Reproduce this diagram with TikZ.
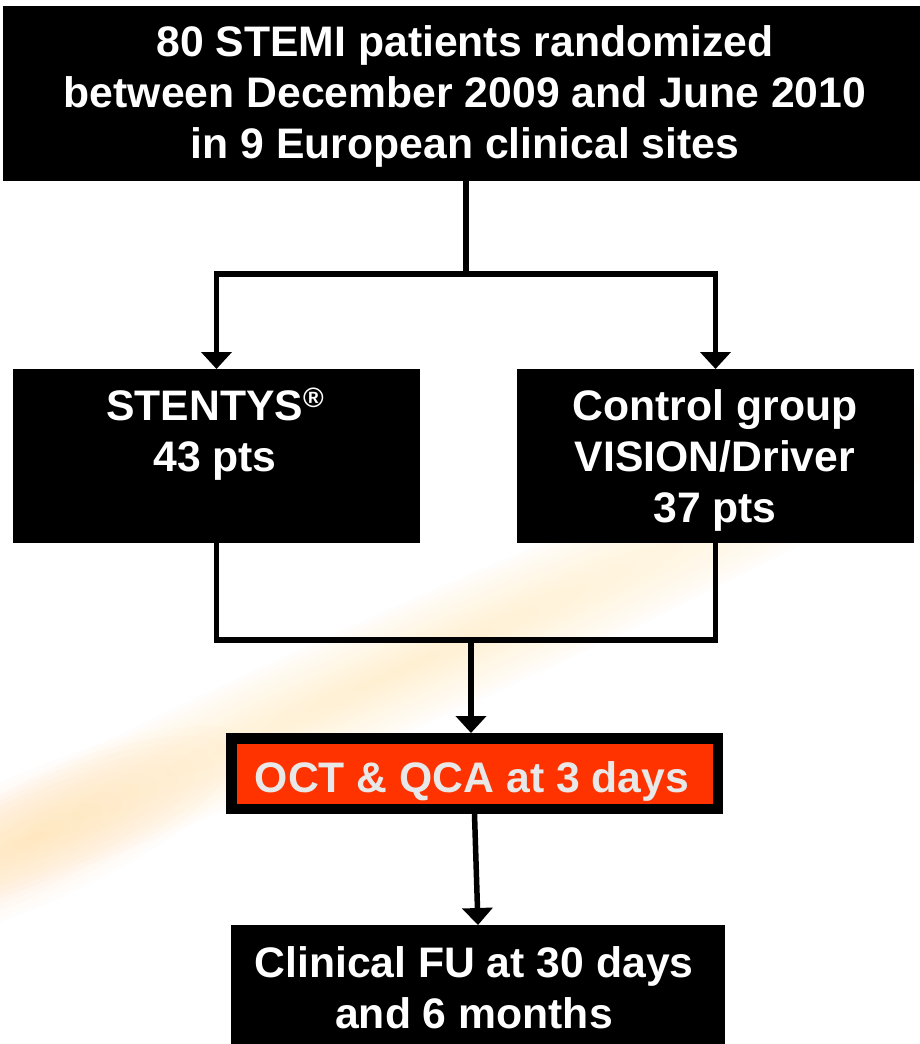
\documentclass[tikz,border=0pt]{standalone}
\usepackage{fontspec}
\setmainfont{Liberation Sans}
\usetikzlibrary{arrows.meta}
\definecolor{octred}{RGB}{255,51,0}
\definecolor{octtext}{RGB}{232,232,232}
\definecolor{glow}{RGB}{255,225,160}
\definecolor{glowdeep}{RGB}{255,210,130}
\begin{document}
\begin{tikzpicture}[x=1pt,y=-1pt,
  box/.style={fill=black, draw=none, inner sep=0pt, outer sep=0pt, anchor=north west},
  lbl/.style={text=white, font=\fontsize{42.7}{51}\selectfont\bfseries, align=center, inner sep=0pt, anchor=base},
  conn/.style={line width=5.5pt, line join=miter},
  arr/.style={line width=5.5pt, -{Triangle[width=30pt,length=17pt]}}]
\useasboundingbox (0,0) rectangle (920,1044);
\fill[white] (0,0) rectangle (920,1044);
% faint light streak in the background
\begin{scope}[shift={(400,670)}, rotate=24]
  \foreach \i in {1,...,14}
    \fill[glow, fill opacity=0.035] (0,0) ellipse ({720*\i/14} and {60*\i/14});
\end{scope}
\begin{scope}[shift={(30,840)}, rotate=24]
  \foreach \i in {1,...,12}
    \fill[glowdeep, fill opacity=0.03] (0,0) ellipse ({240*\i/12} and {65*\i/12});
\end{scope}
% boxes
\node[box, minimum width=917pt, minimum height=175pt] (top) at (3,6) {};
\node[lbl] (toptext) at (465,158) {80 STEMI patients randomized\\between December 2009 and June 2010\\in 9 European clinical sites};
\node[box, minimum width=407pt, minimum height=174pt] (left) at (13,369) {};
\node[lbl] (lefttext) at (215,471) {STENTYS\raisebox{13pt}{\fontsize{28}{28}\selectfont ®}\\43 pts};
\node[box, minimum width=397pt, minimum height=174pt] (right) at (517,369) {};
\node[lbl] (righttext) at (715,522) {Control group\\VISION/Driver\\37 pts};
\node[fill=octred, draw=black, line width=10.5pt, inner sep=0pt,
      minimum width=486.5pt, minimum height=70.5pt] (oct) at (474.5,773.5) {};
\node[lbl, text=octtext] (octtext) at (472,792) {OCT \& QCA at 3 days};
\node[box, minimum width=494pt, minimum height=125pt] (clin) at (231,925) {};
\node[lbl] (clintext) at (474,1028) {Clinical FU at 30 days\\and 6 months};
% connectors
\coordinate (split) at (466,274);
\coordinate (merge) at (471,640);
\draw[conn] (top.south -| split) -- (split);
\draw[arr] (split) -| (left.north);
\draw[arr] (split) -| (right.north);
\draw[conn] (left.south) |- (merge) -| (right.south);
\draw[arr] (merge) -- (merge |- oct.north);
\draw[arr] (oct.south) -- (clin.north);
\end{tikzpicture}
\end{document}
